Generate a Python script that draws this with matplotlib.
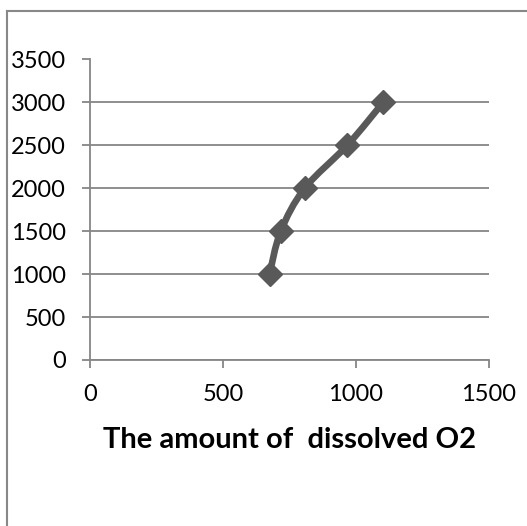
import matplotlib
matplotlib.use("Agg")
import matplotlib.pyplot as plt
import numpy as np
from matplotlib.path import Path
from matplotlib.patches import PathPatch
from matplotlib.lines import Line2D

# Data
oxygen = [675, 717, 807, 967, 1102]
values = [1000, 1500, 2000, 2500, 3000]
x_ticks = [0, 500, 1000, 1500]
y_ticks = [0, 500, 1000, 1500, 2000, 2500, 3000, 3500]
x_label = "The amount of  dissolved O2"

plt.rcParams['font.family'] = ['Lato', 'DejaVu Sans']

W, H = 527, 526
dpi = 100
fig = plt.figure(figsize=(W / dpi, H / dpi), dpi=dpi)
fig.patch.set_facecolor('white')

# axes placement in pixels
left_px, right_px, top_px, bottom_px = 90, 489, 59.5, 360
ax = fig.add_axes([left_px / W, 1 - bottom_px / H, (right_px - left_px) / W, (bottom_px - top_px) / H])

ax.set_xlim(0, 1500)
ax.set_ylim(0, 3500)
ax.set_xticks(x_ticks)
ax.set_yticks(y_ticks)
ax.set_xticklabels([str(t) for t in x_ticks])
ax.set_yticklabels([str(t) for t in y_ticks])

grid_col = '#868686'
for s in ['top', 'right']:
    ax.spines[s].set_visible(False)
for s in ['left', 'bottom']:
    ax.spines[s].set_color(grid_col)
    ax.spines[s].set_linewidth(1.3)
ax.yaxis.grid(True, color=grid_col, linewidth=1.3)
ax.set_axisbelow(True)
ax.tick_params(axis='both', direction='out', length=5.5, width=1.3, color=grid_col,
               labelsize=17, labelcolor='black')
ax.tick_params(axis='x', pad=11.5)
ax.tick_params(axis='y', pad=12)

# Smooth (Catmull-Rom) curve through points, built as Bezier path in data space
pts = np.column_stack([oxygen, values]).astype(float)
n = len(pts)
verts = [tuple(pts[0])]
codes = [Path.MOVETO]
for i in range(n - 1):
    p0 = pts[i - 1] if i > 0 else pts[i]
    p1 = pts[i]
    p2 = pts[i + 1]
    p3 = pts[i + 2] if i + 2 < n else pts[i + 1]
    c1 = p1 + (p2 - p0) / 6.0
    c2 = p2 - (p3 - p1) / 6.0
    verts += [tuple(c1), tuple(c2), tuple(p2)]
    codes += [Path.CURVE4] * 3
line_col = '#595959'
patch = PathPatch(Path(verts, codes), facecolor='none', edgecolor=line_col,
                  linewidth=4.8, capstyle='round', joinstyle='round', zorder=3)
ax.add_patch(patch)
ax.plot(oxygen, values, linestyle='none', marker='D', markersize=12,
        color=line_col, zorder=4, clip_on=False)

ax.set_xlabel(x_label, fontsize=21, fontweight='bold', labelpad=16)

# Chart outer frame (partially cropped)
fig.add_artist(Line2D([7 / W, 7 / W], [0, 1 - 11 / H], color='#888888', linewidth=1.5))
fig.add_artist(Line2D([7 / W, 1], [1 - 11 / H, 1 - 11 / H], color='#888888', linewidth=1.5))

fig.savefig('out.png', dpi=dpi, facecolor='white')
